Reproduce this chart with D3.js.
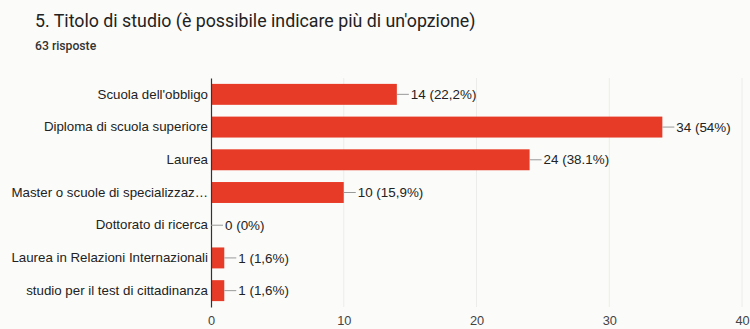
<!DOCTYPE html>
<html>
<head>
<meta charset="utf-8">
<script src="https://cdn.jsdelivr.net/npm/d3@7"></script>
<style>
  html, body { margin: 0; padding: 0; background: #fbfbf9; }
  svg { display: block; }
</style>
</head>
<body>
<svg id="chart" width="750" height="329"></svg>
<script>
// Survey answers: number of respondents per qualification
const categories = [
  "Scuola dell'obbligo",
  "Diploma di scuola superiore",
  "Laurea",
  "Master o scuole di specializzaz…",
  "Dottorato di ricerca",
  "Laurea in Relazioni Internazionali",
  "studio per il test di cittadinanza"
];
const counts = [14, 34, 24, 10, 0, 1, 1];
const percentLabels = ["22,2%", "54%", "38.1%", "15,9%", "0%", "1,6%", "1,6%"];
const xTicks = [0, 10, 20, 30, 40];
const title = "5. Titolo di studio (è possibile indicare più di un'opzione)";
const subtitle = "63 risposte";

const svg = d3.select("#chart");
const font = "Roboto, 'Liberation Sans', Arial, sans-serif";
const labelFont = "'Liberation Sans', Arial, sans-serif";
const margin = { top: 78, right: 8, bottom: 22, left: 211 };

const x = d3.scaleLinear().domain([0, 40]).range([margin.left, 742]);
const y = d3.scaleBand().domain(categories).range([margin.top, 307]).paddingInner(0.36).paddingOuter(0.18);

// heading
svg.append("text").attr("x", 35).attr("y", 27)
  .attr("font-family", font).attr("font-size", 17.8).attr("fill", "#222")
  .text(title);
svg.append("text").attr("x", 35).attr("y", 50)
  .attr("font-family", font).attr("font-size", 12.2).attr("font-weight", 500).attr("fill", "#333")
  .text(subtitle);

// vertical gridlines
svg.append("g").selectAll("line").data(xTicks.slice(1)).join("line")
  .attr("x1", d => x(d)).attr("x2", d => x(d))
  .attr("y1", margin.top).attr("y2", 307)
  .attr("stroke", "#ececea").attr("stroke-width", 1);

// x axis tick labels
const xAxis = d3.axisBottom(x).tickValues(xTicks).tickSize(0).tickPadding(9);
const gx = svg.append("g").attr("transform", "translate(0,307)").call(xAxis);
gx.select(".domain").remove();
gx.selectAll("text").attr("font-family", labelFont).attr("font-size", 12.8).attr("fill", "#444");

// bars
svg.append("g").selectAll("rect").data(counts).join("rect")
  .attr("x", x(0))
  .attr("y", (d, i) => y(categories[i]))
  .attr("width", d => x(d) - x(0))
  .attr("height", y.bandwidth())
  .attr("fill", "#e83b27");

// category labels via a left axis
const yAxis = d3.axisLeft(y).tickSize(0).tickPadding(3);
const gy = svg.append("g").attr("transform", `translate(${margin.left},0)`).call(yAxis);
gy.select(".domain").attr("stroke", "#333").attr("stroke-width", 1.2);
gy.selectAll("text").attr("font-family", labelFont).attr("font-size", 13.3).attr("fill", "#222");

// value labels with short connector lines
const lbl = svg.append("g").selectAll("g").data(counts).join("g")
  .attr("transform", (d, i) => `translate(${x(d)},${y(categories[i]) + y.bandwidth() / 2})`);
lbl.append("line").attr("x1", 0).attr("x2", 12).attr("y1", 0).attr("y2", 0)
  .attr("stroke", "#999").attr("stroke-width", 1);
lbl.append("text").attr("x", 14).attr("dy", "0.35em")
  .attr("font-family", labelFont).attr("font-size", 13.4).attr("fill", "#222")
  .text((d, i) => `${d} (${percentLabels[i]})`);
</script>
</body>
</html>
